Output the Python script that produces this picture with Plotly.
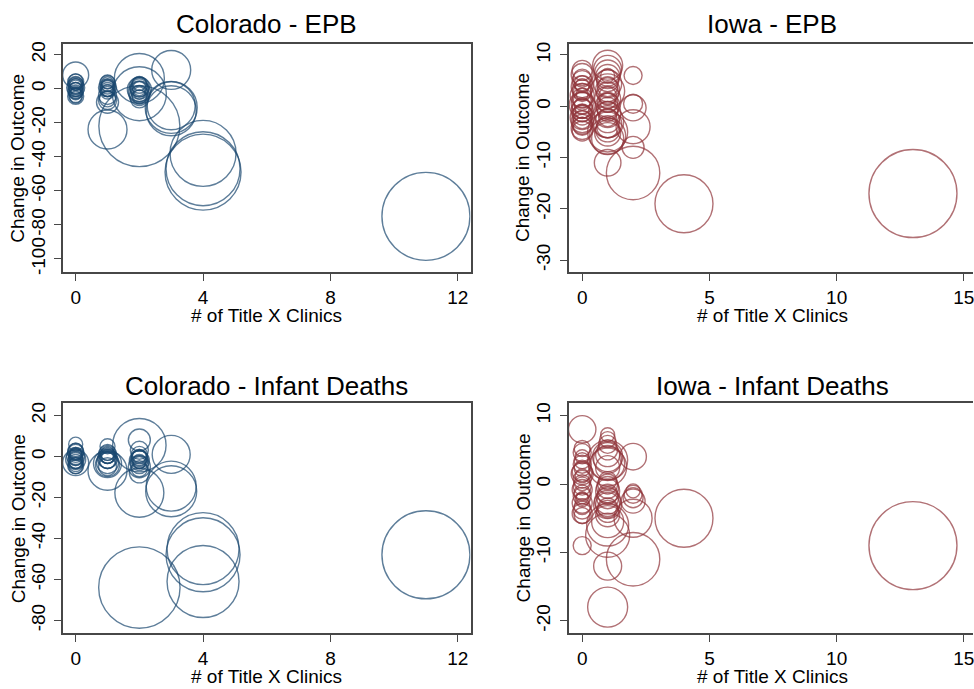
import plotly.graph_objects as go

# ---------------- data ----------------
# Colorado - EPB: clinics, change in outcome, county weight
co_epb_clinics = [0] * 17 + [1] * 15 + [2] * 16 + [3, 3, 3, 3, 4, 4, 4, 11]
co_epb_change = [8, 4.5, 4, 3, 2.5, 2, 1, 0.5, 0, -0.5, -1, -1.5, -2, -3, -4, -4.5, -5,
                 4, 3.5, 3, 2, 1, 0.5, 0, -0.5, -1, -2, -4, -6, -7, -8, -24,
                 -22, 6, -3, 3, 2, 1, 0.5, 0, -0.5, -1, -2, -3, -4, -5, -6, -2.5,
                 11, -10, -11, -13, -38, -47, -49, -75]
co_epb_wt = [169, 49, 64, 49, 36, 64, 49, 81, 36, 49, 64, 25, 49, 36, 49, 64, 36,
             49, 36, 64, 36, 49, 81, 64, 49, 36, 49, 81, 64, 81, 121, 380,
             1640, 625, 729, 49, 64, 100, 81, 49, 144, 81, 121, 64, 100, 49, 81, 36,
             380, 576, 676, 625, 1089, 1369, 1444, 1936]

# Colorado - Infant Deaths
co_inf_clinics = [0] * 18 + [1] * 15 + [2] * 17 + [3, 3, 3, 4, 4, 4, 11]
co_inf_change = [6, 3, 2.5, 2, 1.5, 1, 0.5, 0, -0.5, -1, -1.5, -2, -2.5, -3, -3, -4, -4.5, -5,
                 5, 2, 1.5, 1, 0.5, 0, -0.5, -1, -1.5, -2, -3, -4, -5, -7, -3.5,
                 5.5, 8, 3, 1, 0, -0.5, -1, -1.5, -2, -2.5, -3, -4, -5, -6, -8, -17.7, -64,
                 1, -14.5, -17, -45, -48, -61, -48]
co_inf_wt = [49, 49, 64, 64, 36, 36, 49, 81, 49, 49, 100, 64, 49, 169, 36, 49, 64, 49,
             56, 64, 49, 81, 64, 49, 36, 100, 81, 64, 121, 144, 81, 380, 196,
             713, 121, 81, 64, 49, 64, 64, 81, 100, 49, 36, 81, 121, 64, 100, 600, 1656,
             361, 625, 650, 1296, 1369, 1296, 1936]

# Iowa - EPB
ia_epb_clinics = [0] * 28 + [1] * 30 + [2] * 6 + [4, 13]
ia_epb_change = [7.0, 6.2, 5.5, 5.0, 4.4, 3.8, 3.2, 2.7, 2.1, 1.6, 1.0, 0.6, 0.1, -0.4,
                 -0.8, -1.3, -1.7, -2.2, -2.6, -3.0, -3.5, -3.9, -4.3, -4.8, 0.3, -1.0, 2.4, 4.0,
                 8.0, 7.2, 6.5, 5.8, 5.0, 4.4, 3.8, 3.2, 2.6, 2.0, 1.4, 0.8, 0.2, -0.4, -1.0,
                 -1.6, -2.2, -2.8, -3.4, -4.0, -4.6, -5.2, -5.8, -6.3, -11, 3.0, -3.0, 1.0, -5.0, 6.0,
                 -13, 6, 0.5, -0.3, -4, -8,
                 -19, -17]
ia_epb_wt = [100, 121, 81, 100, 64, 121, 100, 81, 144, 100, 81, 121, 64, 100,
             121, 81, 100, 144, 81, 121, 100, 81, 121, 100, 169, 49, 36, 49,
             225, 196, 169, 144, 121, 196, 100, 144, 121, 81, 169, 100, 144, 121, 100,
             169, 81, 144, 196, 121, 144, 169, 324, 256, 177, 289, 256, 64, 400, 49,
             713, 81, 90, 169, 289, 121,
             841, 1936]

# Iowa - Infant Deaths
ia_inf_clinics = [0] * 24 + [1] * 28 + [2] * 7 + [4, 13]
ia_inf_change = [8, -9, 5.2, 4.6, 4.0, 3.4, 2.9, 2.3, 1.8, 1.2, 0.7, 0.2, -0.3, -0.8,
                 -1.3, -1.8, -2.3, -2.8, -3.3, -3.8, -4.3, -4.6, 1.5, -2.0,
                 -18, -12, 7.2, 6.5, 5.8, 5.0, 4.3, 3.6, 3.0, 2.4, 0.5, 0, -0.5, -1.0,
                 -1.5, -2.0, -2.5, -3.0, -3.5, -4.0, -4.5, -6.0, -7.5, -5.5, 3.5, 2.5, 4.0, -3.0,
                 -11, 4, -1, -1.5, -2.5, -5, -2,
                 -5, -9]
ia_inf_wt = [188, 81, 64, 81, 49, 64, 81, 64, 100, 49, 81, 64, 81, 100,
             64, 81, 49, 100, 64, 81, 100, 64, 121, 36,
             400, 196, 49, 64, 81, 100, 144, 196, 289, 144, 81, 100, 121, 144,
             100, 121, 169, 144, 100, 121, 144, 441, 484, 256, 400, 361, 225, 196,
             713, 177, 49, 81, 144, 361, 100,
             841, 1936]

x_ticks_co = [0, 4, 8, 12]
x_ticks_ia = [0, 5, 10, 15]
y_ticks_co_epb = [-100, -80, -60, -40, -20, 0, 20]
y_ticks_co_inf = [-80, -60, -40, -20, 0, 20]
y_ticks_ia_epb = [-30, -20, -10, 0, 10]
y_ticks_ia_inf = [-20, -10, 0, 10]

NAVY = "#1a476f"
MAROON = "#90353b"
FRAME = "#474747"
FONT = "Liberation Sans, Arial, sans-serif"

W, H = 974, 689


def px_x(p):
    return p / W


def px_y(p):
    return 1 - p / H


fig = go.Figure()


def bubbles(x, y, w, color, xa, ya):
    fig.add_trace(go.Scatter(
        x=x, y=y, mode="markers", xaxis=xa, yaxis=ya, showlegend=False,
        hoverinfo="skip",
        marker=dict(size=w, sizemode="area", sizeref=0.5, symbol="circle-open",
                    color=color, line=dict(width=1.4, color=color)),
    ))


bubbles(co_epb_clinics, co_epb_change, co_epb_wt, NAVY, "x", "y")
bubbles(ia_epb_clinics, ia_epb_change, ia_epb_wt, MAROON, "x2", "y2")
bubbles(co_inf_clinics, co_inf_change, co_inf_wt, NAVY, "x3", "y3")
bubbles(ia_inf_clinics, ia_inf_change, ia_inf_wt, MAROON, "x4", "y4")

top_dom = [px_y(272), px_y(42)]
bot_dom = [px_y(635.7), px_y(404.3)]
left_dom = [px_x(63), px_x(471)]
right_dom = [px_x(569.3), 1.0]

tickfont = dict(family=FONT, size=19, color="black")


def xaxis(dom, anchor, rng, ticks, mirror=True):
    return dict(domain=dom, anchor=anchor, range=rng, tickvals=ticks,
                ticktext=[str(t) for t in ticks], ticks="outside", ticklen=7,
                tickwidth=1.3, tickcolor=FRAME, showline=True, linecolor=FRAME,
                linewidth=1.6, mirror=mirror, showgrid=False, zeroline=False,
                tickfont=tickfont, ticklabeloverflow="allow")


def yaxis(dom, anchor, rng, ticks, mirror=True):
    return dict(domain=dom, anchor=anchor, range=rng, tickvals=ticks,
                ticktext=[str(t) for t in ticks], ticks="outside", ticklen=7,
                tickwidth=1.3, tickcolor=FRAME, showline=True, linecolor=FRAME,
                linewidth=1.6, mirror=mirror, showgrid=False, zeroline=False,
                tickfont=tickfont, tickangle=-90, ticklabelstandoff=2)


fig.update_layout(
    width=W, height=H, margin=dict(l=0, r=0, t=0, b=0),
    paper_bgcolor="white", plot_bgcolor="white",
    xaxis=xaxis(left_dom, "y", [-0.4, 12.4], x_ticks_co),
    yaxis=yaxis(top_dom, "x", [-107.7, 26.4], y_ticks_co_epb),
    xaxis2=xaxis(right_dom, "y2", [-0.53, 15.36], x_ticks_ia),
    yaxis2=yaxis(top_dom, "x2", [-32.3, 12.2], y_ticks_ia_epb, mirror=False),
    xaxis3=xaxis(left_dom, "y3", [-0.4, 12.4], x_ticks_co),
    yaxis3=yaxis(bot_dom, "x3", [-86.2, 25.9], y_ticks_co_inf),
    xaxis4=xaxis(right_dom, "y4", [-0.53, 15.36], x_ticks_ia),
    yaxis4=yaxis(bot_dom, "x4", [-21.8, 11.8], y_ticks_ia_inf, mirror=False),
)

titles = [("Colorado - EPB", 267, 22), ("Iowa - EPB", 773, 22),
          ("Colorado - Infant Deaths", 267, 386.5), ("Iowa - Infant Deaths", 773, 386.5)]
for text, cx, cy in titles:
    fig.add_annotation(text=text, x=px_x(cx), y=px_y(cy), xref="paper", yref="paper",
                       showarrow=False, xanchor="center", yanchor="middle",
                       font=dict(family=FONT, size=26, color="black"))

for cx, cy in [(267, 316), (773, 316), (267, 679), (773, 679)]:
    fig.add_annotation(text="# of Title X Clinics", x=px_x(cx), y=px_y(cy),
                       xref="paper", yref="paper", showarrow=False,
                       xanchor="center", yanchor="middle",
                       font=dict(family=FONT, size=19, color="black"))

for cx, cy in [(18, 157), (523.7, 157), (18, 520), (523.7, 520)]:
    fig.add_annotation(text="Change in Outcome", x=px_x(cx), y=px_y(cy),
                       xref="paper", yref="paper", showarrow=False, textangle=-90,
                       xanchor="center", yanchor="middle",
                       font=dict(family=FONT, size=19, color="black"))

fig.write_html("out.html")
